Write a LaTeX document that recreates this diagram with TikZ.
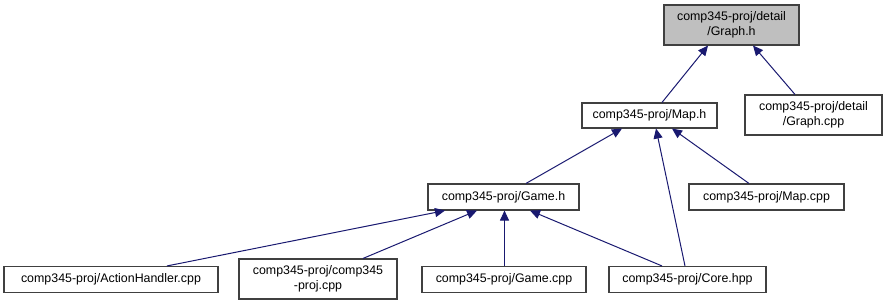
\documentclass[tikz,border=0pt]{standalone}
\usepackage{fontspec}
\setmainfont{Liberation Sans}
\usetikzlibrary{arrows.meta}
\definecolor{edgeblue}{HTML}{191970}
\definecolor{focusgray}{HTML}{BFBFBF}
\begin{document}
\begin{tikzpicture}[x=1pt,y=-1pt,
  filebox/.style={draw=black!75, line width=1.1pt, fill=white, inner sep=0pt,
    align=center, font=\fontsize{12.4}{15}\selectfont},
  dep/.style={draw=edgeblue, line width=1pt,
    -{Triangle[length=10pt,width=9pt]}, shorten >=0pt}]
\useasboundingbox (0,0) rectangle (886,305);

% file nodes: centre, width, height in pixel units
\node[filebox, fill=focusgray, minimum width=135, minimum height=40] (graph) at (731.5,25) {comp345-proj/detail\\/Graph.h};
\node[filebox, minimum width=137, minimum height=40] (graphcpp) at (813.5,115) {comp345-proj/detail\\/Graph.cpp};
\node[filebox, minimum width=135, minimum height=25] (map) at (649.5,115.5) {comp345-proj/Map.h};
\node[filebox, minimum width=151, minimum height=26] (game) at (503.5,197) {comp345-proj/Game.h};
\node[filebox, minimum width=155, minimum height=26] (mapcpp) at (766.5,197) {comp345-proj/Map.cpp};
\node[filebox, minimum width=214, minimum height=26] (action) at (111,279.5) {comp345-proj/ActionHandler.cpp};
\node[filebox, minimum width=158, minimum height=40] (comp) at (318,279) {comp345-proj/comp345\\-proj.cpp};
\node[filebox, minimum width=164, minimum height=26] (gamecpp) at (504,279.5) {comp345-proj/Game.cpp};
\node[filebox, minimum width=157, minimum height=26] (core) at (687.5,279.5) {comp345-proj/Core.hpp};

% include dependencies (arrow points to the included file)
\draw[dep] ([xshift=12.5]map.north) -- ([xshift=-23.5]graph.south);
\draw[dep] ([xshift=-18.5]graphcpp.north) -- ([xshift=21.5]graph.south);
\draw[dep] ([xshift=22.5]game.north) -- ([xshift=-27.5]map.south);
\draw[dep] ([xshift=-2.5]core.north) -- ([xshift=6.5]map.south);
\draw[dep] ([xshift=-17.5]mapcpp.north) -- ([xshift=22.5]map.south);
\draw[dep] ([xshift=56]action.north) -- ([xshift=-58.5]game.south);
\draw[dep] ([xshift=45]comp.north) -- ([xshift=-26.5]game.south);
\draw[dep] ([xshift=0.5]gamecpp.north) -- ([xshift=1]game.south);
\draw[dep] ([xshift=-25.5]core.north) -- ([xshift=26.5]game.south);
\end{tikzpicture}
\end{document}
